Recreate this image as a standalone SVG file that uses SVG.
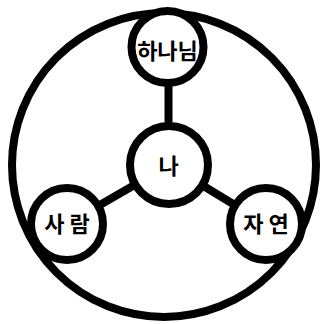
<svg xmlns="http://www.w3.org/2000/svg" width="323" height="324" viewBox="0 0 323 324">
<style>
.ring{fill:#fff;stroke:#000;stroke-width:8}
.conn{stroke:#000;stroke-width:8;fill:none}
.lbl{font-family:"Noto Sans CJK KR","Noto Sans",sans-serif;font-weight:bold;font-size:22px;fill:#000;text-anchor:middle;dominant-baseline:central}
</style>
<rect width="323" height="324" fill="#fff"/>
<g id="outer"><circle cx="164" cy="165" r="152" fill="#fff" stroke="#000" stroke-width="8"/></g>
<g id="connectors">
<line class="conn" x1="168.5" y1="80" x2="168.5" y2="130"/>
<line class="conn" x1="169" y1="165" x2="67" y2="224"/>
<line class="conn" x1="169" y1="165" x2="266" y2="224"/>
</g>
<g id="node-center"><circle class="ring" cx="169" cy="165" r="39"/><text class="lbl" x="168.5" y="164">나</text></g>
<g id="node-top"><circle class="ring" cx="167.5" cy="47" r="36"/><text class="lbl" x="167.5" y="49">하나님</text></g>
<g id="node-left"><circle class="ring" cx="67" cy="224" r="36"/><text class="lbl" x="67" y="222">사 람</text></g>
<g id="node-right"><circle class="ring" cx="266" cy="224" r="36"/><text class="lbl" x="266" y="222">자 연</text></g>
</svg>
